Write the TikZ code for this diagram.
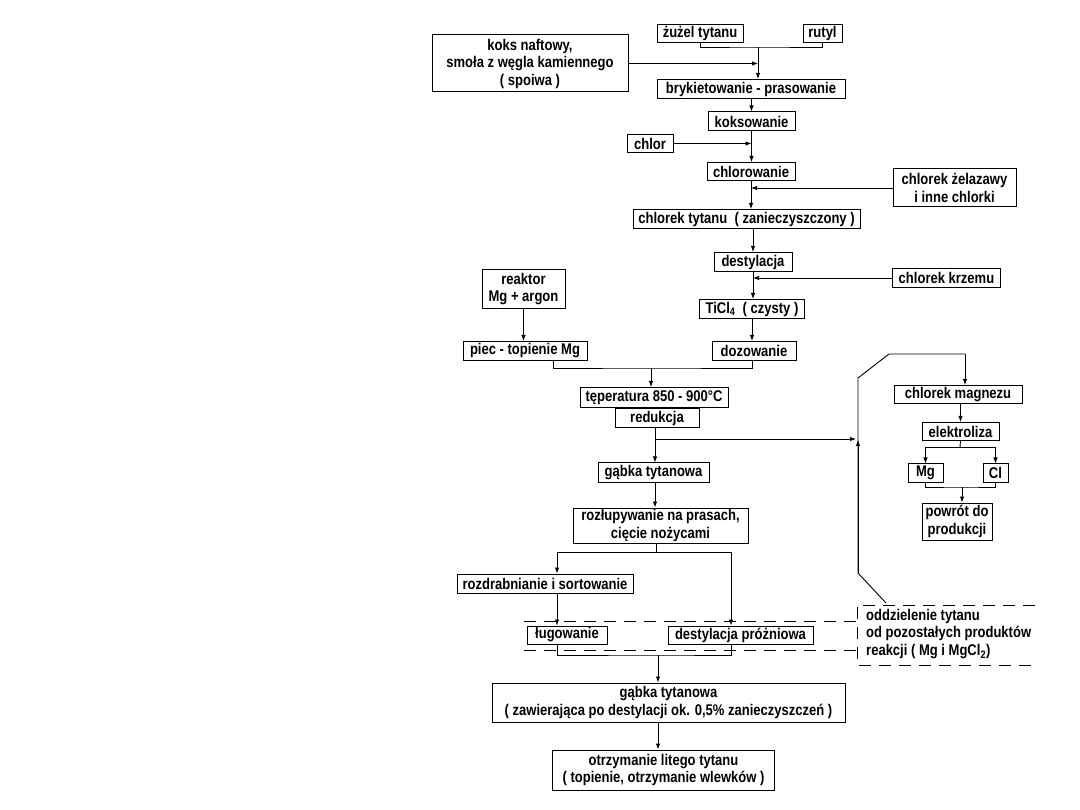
\documentclass[tikz,border=0pt]{standalone}
\usepackage{fontspec}
\setmainfont{Liberation Sans}[FakeStretch=0.84]
\usetikzlibrary{arrows.meta}
\newcommand{\tytFont}{\fontsize{15.5}{17.5}\selectfont\bfseries}

\begin{document}
\begin{tikzpicture}[x=1pt,y=-1pt,
  blok/.style={draw, line width=1pt, inner sep=0pt, align=center, font=\tytFont},
  strz/.style={line width=0.9pt, -{Latex[length=6pt,width=4.5pt]}},
  linia/.style={line width=0.9pt},
  kreska/.style={line width=0.9pt, dash pattern=on 12pt off 8pt}]
\useasboundingbox (0,0) rectangle (1080,810);
\node[blok, minimum width=86, minimum height=18] (zuzel) at (700,33.5) {żużel tytanu};
\node[blok, minimum width=39, minimum height=18] (rutyl) at (822.5,33.5) {rutyl};
\node[blok, minimum width=196, minimum height=57] (koks) at (530,63.5) {koks naftowy,\\smoła z węgla kamiennego\\( spoiwa )};
\node[blok, minimum width=188, minimum height=19] (bryk) at (751,89) {brykietowanie - prasowanie};
\node[blok, minimum width=87, minimum height=19] (koksow) at (751.5,121.5) {koksowanie};
\node[blok, minimum width=46, minimum height=18] (chlor) at (650,143.5) {chlor};
\node[blok, minimum width=88, minimum height=18] (chlorow) at (751,171.5) {chlorowanie};
\node[blok, minimum width=123, minimum height=38] (zelaz) at (954.5,188) {chlorek żelazawy\\i inne chlorki};
\node[blok, minimum width=227, minimum height=19] (tytzan) at (746.5,219) {chlorek tytanu\ \ ( zanieczyszczony )};
\node[blok, minimum width=78, minimum height=19] (destyl) at (753,262) {destylacja};
\node[blok, minimum width=108, minimum height=19] (krzem) at (946.5,278) {chlorek krzemu};
\node[blok, minimum width=105, minimum height=19] (ticl) at (752,309) {TiCl\textsubscript{4}\ \ ( czysty )};
\node[blok, minimum width=84, minimum height=19] (dozow) at (754,351) {dozowanie};
\node[blok, minimum width=83, minimum height=39] (reaktor) at (523.5,289) {reaktor\\Mg + argon};
\node[blok, minimum width=124, minimum height=19] (piec) at (525,351) {piec - topienie Mg};
\node[blok, minimum width=148, minimum height=20] (temp) at (654,397.5) {tęperatura 850\ - 900°C};
\node[blok, minimum width=84, minimum height=19] (reduk) at (657,418.5) {redukcja};
\node[blok, minimum width=111, minimum height=19] (gabka1) at (653.5,472.5) {gąbka tytanowa};
\node[blok, minimum width=175, minimum height=35] (rozlup) at (660.5,525.5) {rozłupywanie na prasach,\\cięcie nożycami};
\node[blok, minimum width=176, minimum height=19] (rozdrab) at (545,583.5) {rozdrabnianie i sortowanie};
\node[blok, minimum width=80, minimum height=18] (lugow) at (567,635) {ługowanie};
\node[blok, minimum width=145, minimum height=18] (prozn) at (740.5,635) {destylacja próżniowa};
\node[blok, minimum width=353, minimum height=39] (gabka2) at (668.5,702.5) {gąbka tytanowa\\( zawierająca po destylacji ok. 0,5\% zanieczyszczeń )};
\node[blok, minimum width=222, minimum height=40] (otrzym) at (663.5,770) {otrzymanie litego tytanu\\( topienie, otrzymanie wlewków )};
\node[blok, minimum width=128, minimum height=18] (magnez) at (958,394.5) {chlorek magnezu};
\node[blok, minimum width=77, minimum height=18] (elektr) at (960.5,431.5) {elektroliza};
\node[blok, minimum width=35, minimum height=18] (mg) at (925.5,473) {Mg};
\node[blok, minimum width=25, minimum height=18] (cl) at (995.5,473) {Cl};
\node[blok, minimum width=70, minimum height=37] (powrot) at (957,521.5) {powrót do\\produkcji};
\node[font=\tytFont, align=left, anchor=west, inner sep=0pt] (oddz) at (866,634) {oddzielenie tytanu\\od pozostałych produktów\\reakcji ( Mg i MgCl\textsubscript{2})};
\coordinate (j1) at (758,47);
\coordinate (j2) at (651,368);
\coordinate (j3) at (655,439);
\coordinate (j4) at (960,447);
\coordinate (j5) at (962,487);
\coordinate (j6) at (656,552);
\coordinate (kL) at (557,552);
\coordinate (kR) at (731,552);
\coordinate (j7) at (658,655);
\coordinate (r0) at (886,603);
\coordinate (r1) at (858,573);
\coordinate (r2) at (858,378);
\coordinate (r3) at (889,354);
\coordinate (r4) at (965,354);
\coordinate (r5) at (858,440);
\draw[linia] (zuzel.south) |- (j1) -| (rutyl.south);
\draw[strz] (j1) -- (j1 |- bryk.north);
\draw[strz] (koks.east) -- (koks.east -| j1);
\draw[strz] (koksow.north |- bryk.south) -- (koksow.north);
\draw[strz] (chlor.east) -- (chlor.east -| koksow.south);
\draw[strz] (koksow.south) -- (koksow.south |- chlorow.north);
\draw[strz] (chlorow.south) -- (chlorow.south |- tytzan.north);
\draw[strz] (zelaz.west) -- (zelaz.west -| chlorow.south);
\draw[strz] (destyl.north |- tytzan.south) -- (destyl.north);
\draw[strz] (destyl.south) -- (destyl.south |- ticl.north);
\draw[strz] (krzem.west) -- (krzem.west -| destyl.south);
\draw[strz] (ticl.south) -- (ticl.south |- dozow.north);
\draw[strz] (reaktor.south) -- (reaktor.south |- piec.north);
\draw[linia] ([xshift=28]piec.south) |- (j2) -| ([xshift=-2]dozow.south);
\draw[strz] (j2) -- (j2 |- temp.north);
\draw[strz] (j3 |- reduk.south) -- (j3 |- gabka1.north);
\draw[strz] (j3) -- ([xshift=-2]j3 -| r2);
\draw[linia] (r0) -- (r1) -- (r2) -- (r3) -- (r4);
\draw[strz] (r4) -- (r4 |- magnez.north);
\draw[strz] (r1) -- (r5);
\draw[strz] (magnez.south -| elektr.north) -- (elektr.north);
\draw[linia] (elektr.south) -- (j4);
\draw[strz] (j4) -| (mg.north);
\draw[strz] (j4) -| (cl.north);
\draw[linia] (mg.south) |- (j5) -| (cl.south);
\draw[strz] (j5) -- (j5 |- powrot.north);
\draw[strz] (j3 |- gabka1.south) -- (j3 |- rozlup.north);
\draw[linia] (j6 |- rozlup.south) -- (j6);
\draw[strz] (j6) -- (kL) -- (kL |- rozdrab.north);
\draw[strz] (j6) -- (kR) -- (kR |- prozn.north);
\draw[strz] (kL |- rozdrab.south) -- (kL |- lugow.north);
\draw[linia] (kL |- lugow.south) |- (j7) -| (kR |- prozn.south);
\draw[strz] (j7) -- (j7 |- gabka2.north);
\draw[strz] (j7 |- gabka2.south) -- (j7 |- otrzym.north);
\draw[kreska] (524,621) -- (857,621);
\draw[kreska] (524,650) -- (857,650);
\draw[kreska] (1035,605) -| (857,665) -- (1035,665);
\end{tikzpicture}
\end{document}
